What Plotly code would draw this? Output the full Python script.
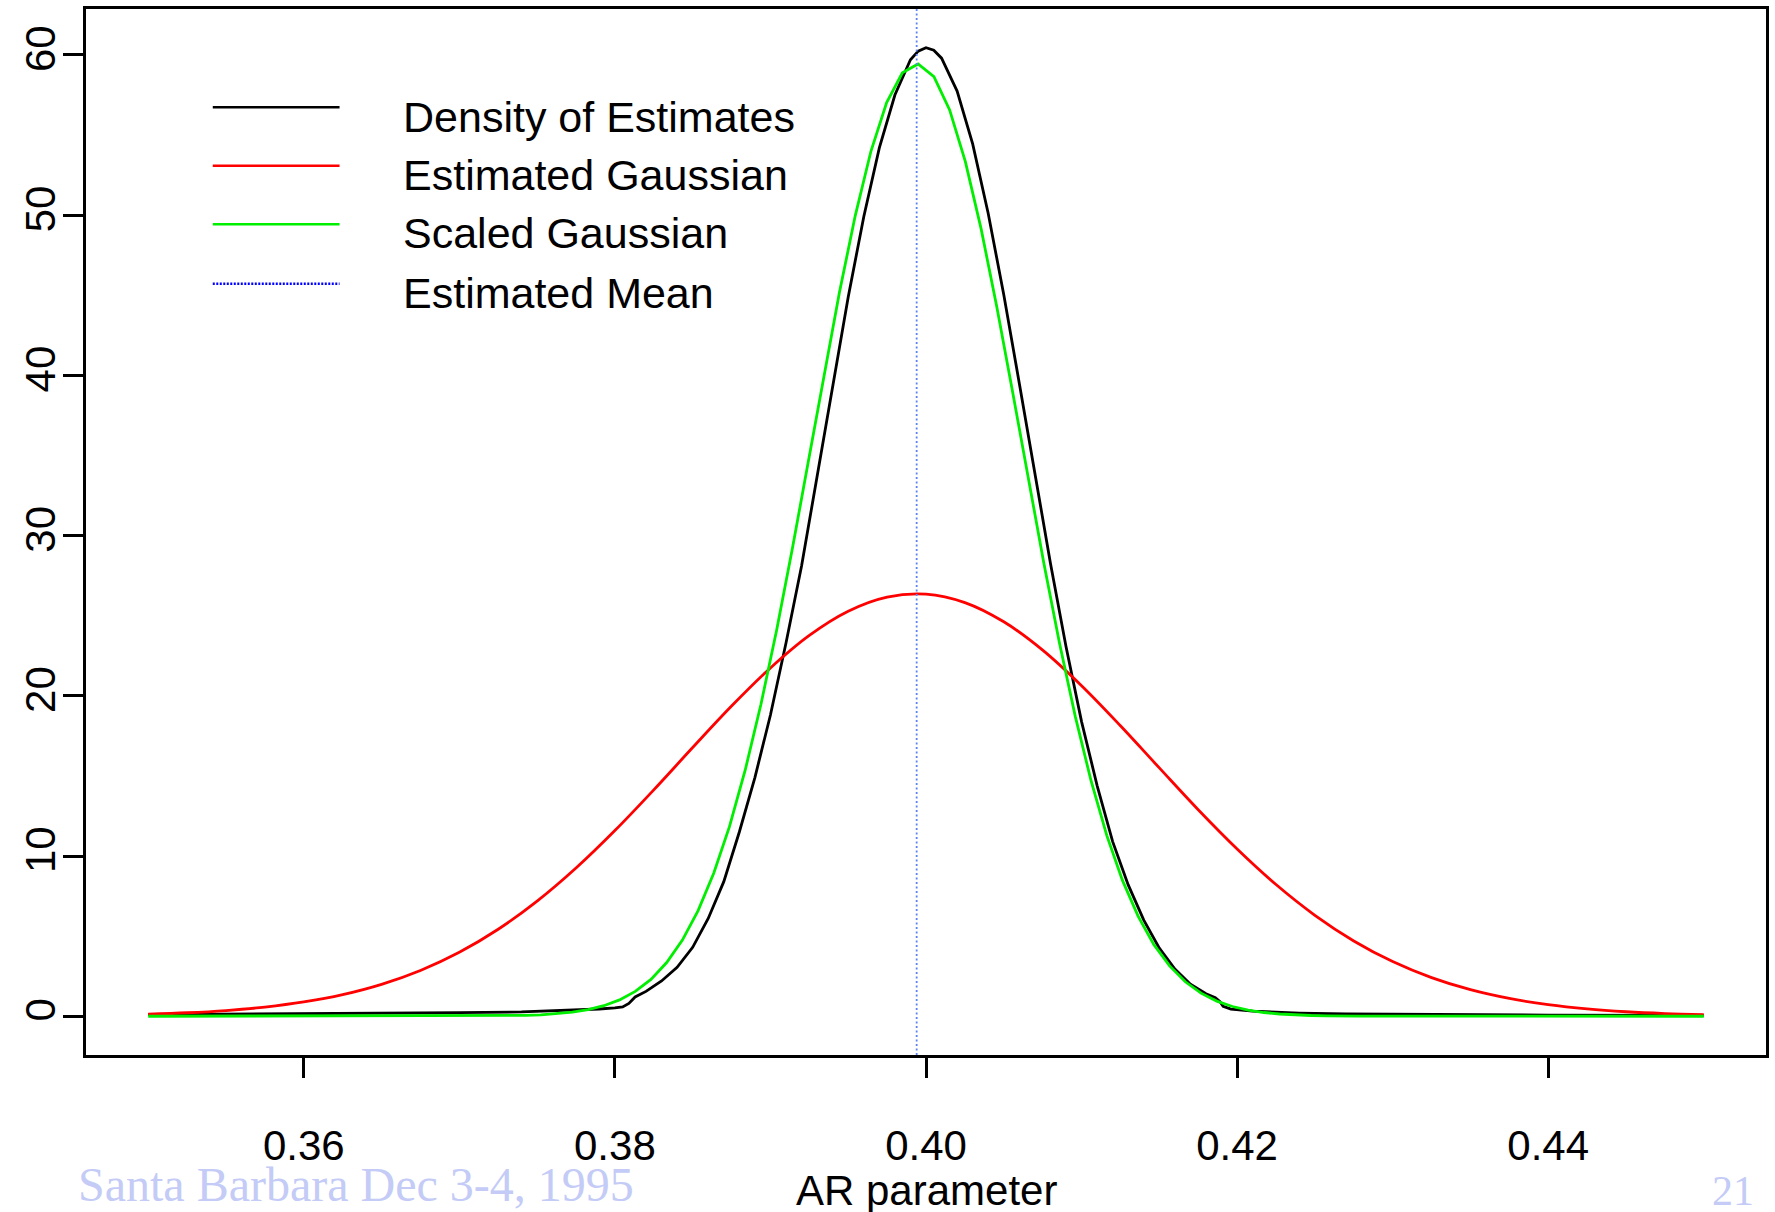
import plotly.graph_objects as go

# ---------------- data ----------------
x_ticks = [0.36, 0.38, 0.40, 0.42, 0.44]
x_tick_labels = ["0.36", "0.38", "0.40", "0.42", "0.44"]
y_ticks = [0, 10, 20, 30, 40, 50, 60]
y_tick_labels = ["0", "10", "20", "30", "40", "50", "60"]

legend_labels = ["Density of Estimates", "Estimated Gaussian", "Scaled Gaussian", "Estimated Mean"]

# Estimated Gaussian (red)
red_x = [0.3500, 0.3525, 0.3550, 0.3575, 0.3600, 0.3625, 0.3650, 0.3675, 0.3700, 0.3725,
         0.3750, 0.3775, 0.3800, 0.3825, 0.3850, 0.3875, 0.3900, 0.3925, 0.3950, 0.3975,
         0.4000, 0.4025, 0.4050, 0.4075, 0.4100, 0.4125, 0.4150, 0.4175, 0.4200, 0.4225,
         0.4250, 0.4275, 0.4300, 0.4325, 0.4350, 0.4375, 0.4400, 0.4425, 0.4450, 0.4475,
         0.4500]
red_y = [0.128, 0.216, 0.356, 0.570, 0.889, 1.347, 1.989, 2.856, 3.992, 5.429,
         7.184, 9.250, 11.59, 14.13, 16.77, 19.36, 21.74, 23.77, 25.28, 26.16,
         26.35, 25.82, 24.62, 22.85, 20.63, 18.13, 15.50, 12.89, 10.44, 8.221,
         6.301, 4.700, 3.411, 2.409, 1.655, 1.107, 0.720, 0.456, 0.281, 0.168,
         0.098]

# Scaled Gaussian (green)
green_x = [0.35000, 0.37121, 0.37222, 0.37323, 0.37424, 0.37525, 0.37626, 0.37727, 0.37828, 0.37929,
           0.38030, 0.38131, 0.38232, 0.38333, 0.38434, 0.38535, 0.38636, 0.38737, 0.38838, 0.38939,
           0.39040, 0.39141, 0.39242, 0.39343, 0.39444, 0.39545, 0.39646, 0.39747, 0.39848, 0.39949,
           0.40051, 0.40152, 0.40253, 0.40354, 0.40455, 0.40556, 0.40657, 0.40758, 0.40859, 0.40960,
           0.41061, 0.41162, 0.41263, 0.41364, 0.41465, 0.41566, 0.41667, 0.41768, 0.41869, 0.41970,
           0.42071, 0.42172, 0.42273, 0.42374, 0.42475, 0.42576, 0.42677, 0.42778, 0.45000]
green_y = [0.00, 0.010, 0.016, 0.029, 0.052, 0.090, 0.153, 0.253, 0.413, 0.657,
           1.02, 1.55, 2.30, 3.35, 4.75, 6.59, 8.94, 11.85, 15.37, 19.47,
           24.11, 29.19, 34.54, 39.97, 45.20, 49.96, 53.99, 57.03, 58.89, 59.44,
           58.65, 56.57, 53.34, 49.16, 44.29, 39.01, 33.58, 28.26, 23.25, 18.70,
           14.70, 11.29, 8.48, 6.23, 4.47, 3.14, 2.15, 1.44, 0.945, 0.606,
           0.379, 0.232, 0.139, 0.081, 0.046, 0.026, 0.014, 0.008, 0.00]

# Density of Estimates (black)
black_x = [0.3500, 0.3550, 0.3600, 0.3650, 0.3700, 0.3740, 0.3770, 0.3790, 0.3800, 0.3805,
           0.3809, 0.3813, 0.3820, 0.3830, 0.3840, 0.3850, 0.3860, 0.3870, 0.3880, 0.3890,
           0.3900, 0.3910, 0.3920, 0.3930, 0.3940, 0.3950, 0.3960, 0.3970, 0.3980, 0.3990,
           0.3995, 0.4000, 0.4005, 0.4010, 0.4020, 0.4030, 0.4040, 0.4050, 0.4060, 0.4070,
           0.4080, 0.4090, 0.4100, 0.4110, 0.4120, 0.4130, 0.4140, 0.4150, 0.4160, 0.4170,
           0.4180, 0.4186, 0.4189, 0.4191, 0.4196, 0.4210, 0.4240, 0.4270, 0.4320, 0.4400,
           0.4500]
black_y = [0.10, 0.12, 0.15, 0.18, 0.22, 0.27, 0.36, 0.45, 0.52, 0.58,
           0.80, 1.20, 1.55, 2.20, 3.05, 4.30, 6.10, 8.40, 11.50, 14.90,
           18.80, 23.30, 28.10, 33.70, 39.40, 44.90, 49.90, 54.20, 57.50, 59.70,
           60.24, 60.45, 60.30, 59.80, 57.75, 54.45, 50.11, 45.03, 39.50, 33.83,
           28.28, 23.08, 18.39, 14.40, 10.90, 8.20, 6.00, 4.25, 2.95, 2.00,
           1.40, 1.15, 0.90, 0.62, 0.44, 0.32, 0.20, 0.14, 0.10, 0.07,
           0.05]

mean_x = 0.3994

x_range = [0.346, 0.454]
y_range = [-2.42, 62.87]

# ---------------- layout geometry ----------------
W, H = 1775, 1212
L, R, T, B = 86, 6, 9, 157
PW, PH = W - L - R, H - T - B


def px(xp):
    return (xp - L) / PW


def py(yp):
    return (H - B - yp) / PH


FONT = "Liberation Sans, Arial, Helvetica, sans-serif"
SERIF = "Liberation Serif, Times New Roman, serif"

fig = go.Figure()

fig.add_trace(go.Scatter(x=black_x, y=black_y, mode="lines",
                         line=dict(color="#000000", width=2.8), showlegend=False,
                         name=legend_labels[0]))
fig.add_trace(go.Scatter(x=red_x, y=red_y, mode="lines",
                         line=dict(color="#ff0000", width=2.8, shape="spline"), showlegend=False,
                         name=legend_labels[1]))
fig.add_trace(go.Scatter(x=green_x, y=green_y, mode="lines",
                         line=dict(color="#00ee00", width=2.8), showlegend=False,
                         name=legend_labels[2]))

# Estimated mean: vertical dotted line spanning the plot region
fig.add_shape(type="line", xref="x", yref="paper", x0=mean_x, x1=mean_x, y0=0, y1=1,
              line=dict(color="#5b84f0", width=1.8, dash="2px,2.5px"))

# ---------------- manual legend ----------------
legend_colors = ["#000000", "#ff0000", "#00ee00", "#0000ff"]
legend_line_y = [107.3, 165.7, 224.3, 283.7]
legend_text_y = [116.7, 175.0, 233.3, 292.7]
for i, lab in enumerate(legend_labels):
    dash = "2px,1.5px" if i == 3 else "solid"
    fig.add_shape(type="line", xref="paper", yref="paper",
                  x0=px(213), x1=px(340), y0=py(legend_line_y[i]), y1=py(legend_line_y[i]),
                  line=dict(color=legend_colors[i], width=2.6 if i < 3 else 2.4, dash=dash))
    fig.add_annotation(xref="paper", yref="paper", x=px(402), y=py(legend_text_y[i]),
                       text=lab, showarrow=False, xanchor="left", yanchor="middle",
                       font=dict(family=FONT, size=43, color="#000000"))

# axis title
fig.add_annotation(xref="paper", yref="paper", x=0.5, y=py(1190), text="AR parameter",
                   showarrow=False, xanchor="center", yanchor="middle",
                   font=dict(family=FONT, size=42, color="#000000"))

# footer
fig.add_annotation(xref="paper", yref="paper", x=px(76), y=py(1184),
                   text="Santa Barbara Dec 3-4, 1995", showarrow=False,
                   xanchor="left", yanchor="middle",
                   font=dict(family=SERIF, size=48, color="#c3cbf6"))
fig.add_annotation(xref="paper", yref="paper", x=px(1759), y=py(1191),
                   text="21", showarrow=False, xanchor="right", yanchor="middle",
                   font=dict(family=SERIF, size=42, color="#c3cbf6"))

fig.update_layout(
    width=W, height=H,
    margin=dict(l=L, r=R, t=T, b=B, pad=0),
    paper_bgcolor="white", plot_bgcolor="white",
    showlegend=False,
    xaxis=dict(range=x_range, tickvals=x_ticks, ticktext=x_tick_labels,
               showgrid=False, zeroline=False, showline=True, mirror=True,
               linecolor="black", linewidth=2.7,
               ticks="outside", ticklen=20, tickwidth=2.5, tickcolor="black",
               tickfont=dict(family=FONT, size=42, color="black"),
               ticklabelstandoff=32),
    yaxis=dict(range=y_range, tickvals=y_ticks, ticktext=y_tick_labels,
               showgrid=False, zeroline=False, showline=True, mirror=True,
               linecolor="black", linewidth=2.7,
               ticks="outside", ticklen=20, tickwidth=2.5, tickcolor="black",
               tickangle=-90,
               tickfont=dict(family=FONT, size=42, color="black"),
               ticklabelstandoff=-9),
)

fig.write_html("out.html", config={"displayModeBar": False},
               post_script="document.body.style.margin='0';document.body.style.padding='0';")
